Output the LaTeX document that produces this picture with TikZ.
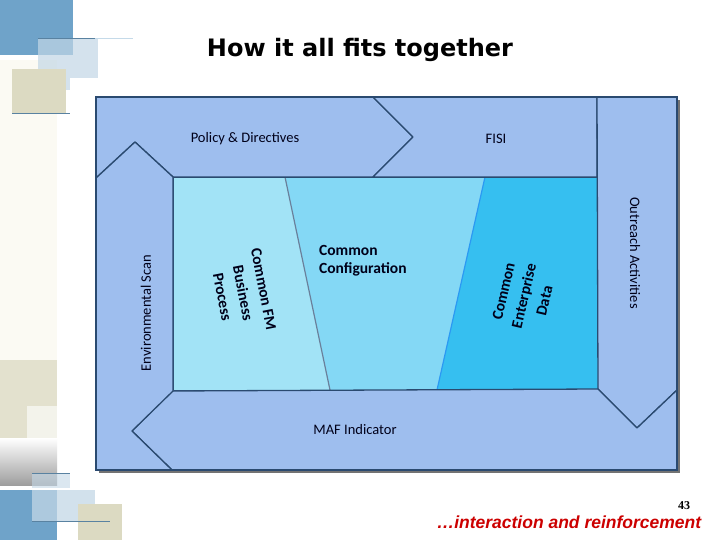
\documentclass[tikz,border=0pt]{standalone}
\usepackage{fontspec}
\setmainfont{Liberation Sans}
\newfontfamily\calib{Carlito}
\newfontfamily\numfont{Liberation Serif}
\newfontfamily\titlefont{DejaVu Sans}
\usetikzlibrary{positioning}
\definecolor{framecol}{HTML}{9EBEEE}
\definecolor{edgecol}{HTML}{2A4A70}
\definecolor{procol}{HTML}{A2E3F6}
\definecolor{confcol}{HTML}{84D8F5}
\definecolor{datacol}{HTML}{36BFF0}
\definecolor{decoblue}{HTML}{6FA3C9}
\definecolor{decolight}{HTML}{C3D7E6}
\definecolor{decobeige}{HTML}{DCDAC2}
\definecolor{decocream}{HTML}{FBFAF3}
\definecolor{footred}{HTML}{CC0000}

\begin{document}
\begin{tikzpicture}[x=1pt,y=-1pt,
    piece/.style={fill=framecol,draw=edgecol,line width=1.3pt,line join=round},
    panel/.style={draw=edgecol,line width=0.8pt,line join=round},
    lbl/.style={font=\calib\fontsize{14.5}{16}\selectfont,text=black!90!blue},
    inlbl/.style={font=\calib\bfseries\fontsize{15.5}{18}\selectfont,align=center,inner sep=1pt,text=black!90!blue},
    turnlbl/.style={inlbl,font=\calib\bfseries\fontsize{15.5}{21}\selectfont}]
  \useasboundingbox[fill=white] (0,0) rectangle (720,540);

  % decoration, top left
  \fill[decocream] (0,60) rectangle (57,440);
  \fill[decoblue] (0,0) rectangle (73,55);
  \fill[decolight,opacity=0.7] (38,38) rectangle (98,78);
  \fill[decolight,opacity=0.7] (38,78) rectangle (70,90);
  \fill[decobeige] (12,69) rectangle (66,113);
  \draw[decoblue!80!black,line width=0.8pt] (38,38) -- (95,38);
  \draw[decoblue!40,line width=0.8pt] (95,38) -- (133,38);
  \draw[decoblue!80!black,line width=0.8pt] (12,113) -- (70,113);

  % decoration, bottom left
  \fill[decobeige!80] (0,360) rectangle (57,438);
  \fill[white,opacity=0.6] (27,406) rectangle (57,450);
  \shade[top color=white,bottom color=black!38] (0,438) rectangle (57,485);
  \fill[decoblue] (0,490) rectangle (57,540);
  \fill[decolight,opacity=0.6] (32,473) rectangle (70,488);
  \fill[decolight,opacity=0.75] (32,490) rectangle (95,521);
  \fill[decobeige] (78,504) rectangle (122,540);
  \draw[decoblue!80!black,line width=0.7pt] (32,473) -- (70,473);
  \draw[decoblue!80!black,line width=0.7pt] (32,521) -- (110,521);

  % title
  \node at (360,50) [font=\titlefont\bfseries\fontsize{24}{26}\selectfont] (title) {How it all fits together};

  % outer frame
  \fill[black!55] (99,100) rectangle (680,473);
  \fill[framecol] (96,97) rectangle (677,470);

  % inner panel
  \fill[procol] (173,177) -- (285,177) -- (330,390) -- (173,390) -- cycle;
  \fill[confcol] (285,177) -- (485,177) -- (437,390) -- (330,390) -- cycle;
  \fill[datacol] (485,177) -- (598,177) -- (598,390) -- (437,390) -- cycle;
  \draw[edgecol!70,line width=1.2pt] (285,177) -- (330,390);
  \draw[datacol!80!blue,line width=1.2pt] (485,177) -- (437,390);
  \draw[panel] (173,177) rectangle (598,390);

  % frame pieces
  \draw[piece] (96,97) -- (373,97) -- (413,137) -- (373,177) -- (173,177)
    -- (135,142) -- (96,178) -- cycle;
  \draw[piece] (373,97) -- (597,97) -- (597,177) -- (373,177) -- (413,137) -- cycle;
  \draw[piece] (597,97) -- (677,97) -- (677,390) -- (637,428) -- (598,389) -- cycle;
  \draw[piece] (172,391) -- (598,389) -- (637,428) -- (677,390) -- (677,470)
    -- (172,470) -- (132,431) -- cycle;
  \draw[piece] (96,178) -- (135,142) -- (173,177) -- (173,391) -- (132,431)
    -- (172,470) -- (96,470) -- cycle;
  \draw[edgecol,line width=1.6pt] (96,97) rectangle (677,470);

  % frame labels
  \node at (245,139) [lbl] (policy) {Policy \& Directives};
  \node at (496,139) [lbl] (fisi) {FISI};
  \node at (635,253) [lbl,rotate=-90] (outreach) {Outreach Activities};
  \node at (355,430) [lbl] (maf) {MAF Indicator};
  \node at (146,313) [lbl,rotate=90] (envscan) {Environmental Scan};

  % inner labels
  \node at (243,293) [turnlbl,rotate=-79] (process) {Common FM\\Business\\Process};
  \node at (318,261) [inlbl,align=left,anchor=west] (config) {Common\\Configuration};
  \node at (524,296) [turnlbl,rotate=77] (entdata) {Common\\Enterprise\\Data};

  % footer
  \node at (684,506) [font=\numfont\bfseries\fontsize{12}{14}\selectfont] (pagenum) {43};
  \node at (569,522) [font=\bfseries\itshape\fontsize{17.5}{19}\selectfont,text=footred] (tagline) {\ldots interaction and reinforcement};
\end{tikzpicture}
\end{document}
